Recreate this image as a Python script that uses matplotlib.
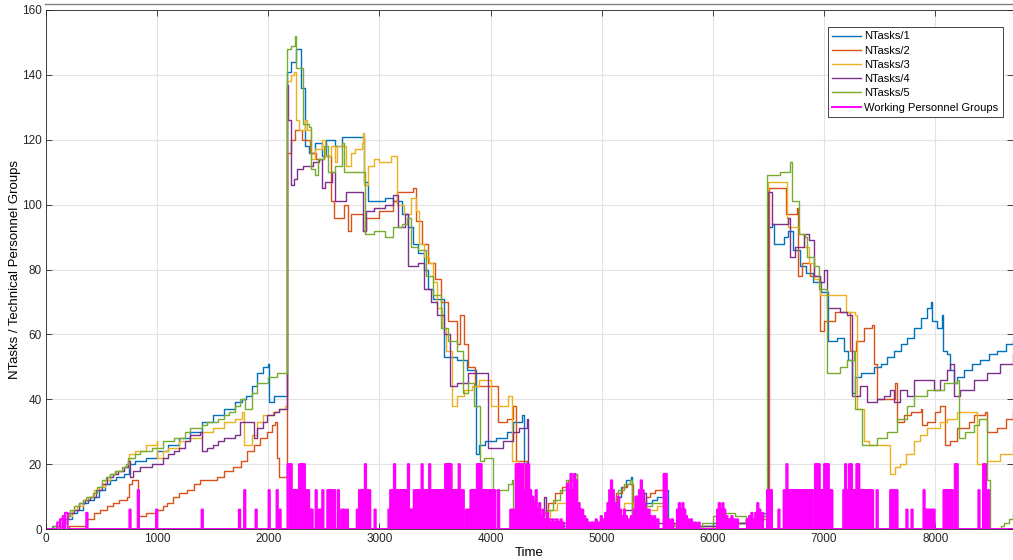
import matplotlib
matplotlib.use("Agg")
import matplotlib.pyplot as plt
from matplotlib.lines import Line2D

# (time, value) breakpoints, step-wise series
NT1 = [(0, 0), (60, 1), (150, 2), (190, 3), (230, 5), (280, 6), (330, 8), (380, 9), (430, 10), (480, 12),
       (530, 14), (580, 15), (630, 16), (700, 17), (750, 20), (800, 21), (900, 22), (1000, 24), (1100, 26),
       (1200, 28), (1300, 30), (1400, 33), (1500, 35), (1600, 37), (1700, 39), (1760, 40), (1800, 41),
       (1850, 44), (1900, 48), (1950, 50), (1995, 51), (2010, 39), (2050, 41),
       (2170, 141), (2200, 144), (2250, 148), (2290, 136), (2330, 118), (2370, 116), (2420, 119), (2480, 115),
       (2520, 120), (2600, 118), (2660, 121), (2860, 107), (2900, 101), (3050, 102), (3120, 101), (3200, 97),
       (3260, 93), (3300, 88), (3350, 85), (3400, 80), (3440, 74), (3480, 71), (3585, 53), (3700, 52),
       (3790, 49), (3870, 23), (3900, 26), (3950, 27), (4050, 28), (4150, 30), (4200, 33), (4280, 35),
       (4300, 6), (4350, 3), (4450, 2), (4550, 1), (4700, 0), (4950, 1), (5050, 4), (5090, 6), (5130, 10),
       (5170, 13), (5220, 15), (5260, 16), (5275, 3), (5330, 6), (5400, 8), (5450, 9), (5500, 10), (5560, 12),
       (5600, 1), (5700, 0), (5800, 1), (6000, 2), (6100, 3), (6200, 2), (6300, 3), (6400, 4), (6450, 5),
       (6500, 93), (6530, 94), (6550, 88), (6640, 90), (6680, 92), (6720, 86), (6780, 81), (6840, 79),
       (6900, 76), (6970, 73), (7040, 58), (7120, 59), (7180, 55), (7220, 52), (7250, 42), (7280, 47),
       (7330, 48), (7450, 50), (7510, 51), (7570, 53), (7630, 55), (7690, 57), (7750, 59), (7810, 62),
       (7870, 65), (7930, 68), (7960, 70), (7970, 64), (8020, 62), (8060, 66), (8070, 55), (8110, 54),
       (8135, 49), (8165, 45), (8200, 47), (8260, 49), (8330, 51), (8400, 52), (8480, 54), (8560, 55),
       (8640, 57), (8700, 58)]

NT2 = [(0, 0), (210, 1), (370, 3), (430, 5), (486, 6), (550, 7), (606, 8), (660, 9), (726, 10), (750, 14),
       (771, 15), (831, 4), (900, 5), (996, 6), (1050, 7), (1086, 8), (1140, 10), (1200, 11), (1266, 12),
       (1330, 14), (1386, 15), (1536, 16), (1600, 18), (1686, 19), (1750, 21), (1806, 24), (1870, 26),
       (1926, 28), (1990, 30), (2030, 32), (2061, 33), (2075, 22), (2100, 16),
       (2170, 116), (2200, 120), (2240, 123), (2300, 120), (2376, 116), (2430, 114), (2500, 115), (2560, 101),
       (2590, 96), (2680, 100), (2720, 92), (2740, 97), (2800, 97), (2856, 92), (2880, 96), (3000, 98),
       (3126, 101), (3160, 104), (3300, 105), (3330, 95), (3380, 88), (3440, 82), (3500, 77), (3550, 70),
       (3620, 64), (3700, 57), (3726, 66), (3760, 57), (3800, 50), (3860, 44), (4071, 33), (4150, 34),
       (4206, 38), (4230, 21), (4330, 20), (4341, 9),
       (4400, 6), (4476, 5), (4520, 8), (4580, 11), (4640, 13), (4700, 15), (4740, 17), (4776, 2), (4850, 1),
       (5000, 2), (5050, 5), (5090, 8), (5130, 11), (5180, 13), (5230, 14), (5280, 3), (5320, 5), (5360, 8),
       (5400, 10), (5430, 11), (5480, 12), (5571, 2), (5650, 1), (5800, 0), (6000, 1), (6150, 2), (6300, 3),
       (6505, 105), (6640, 105), (6660, 97), (6756, 99), (6770, 78), (6800, 82), (6876, 78), (6966, 61),
       (7000, 64), (7100, 67), (7236, 55), (7290, 58), (7356, 62), (7431, 63), (7445, 51), (7476, 40),
       (7630, 40), (7640, 45), (7656, 33), (7720, 35), (7780, 36), (7876, 37), (7880, 32), (7926, 33),
       (8000, 36), (8046, 38), (8090, 26), (8130, 27), (8196, 31), (8300, 33), (8346, 35), (8451, 36),
       (8466, 30), (8560, 31), (8640, 34), (8700, 37)]

NT3 = [(0, 0), (90, 1), (150, 2), (190, 4), (230, 6), (280, 7), (330, 9), (380, 10), (430, 12), (480, 13),
       (530, 15), (580, 17), (630, 18), (700, 19), (750, 23), (800, 24), (900, 26), (996, 27), (1000, 22),
       (1050, 24), (1100, 25), (1200, 27), (1300, 28), (1400, 30), (1500, 31), (1600, 33), (1700, 34),
       (1760, 36), (1780, 26), (1850, 29), (1896, 33), (1950, 35), (2040, 36), (2100, 37), (2150, 38),
       (2170, 138), (2200, 140), (2230, 141), (2250, 126), (2280, 123), (2330, 126), (2350, 123), (2380, 114),
       (2420, 117), (2480, 120), (2510, 115), (2560, 118), (2600, 113), (2620, 118), (2700, 112), (2740, 116),
       (2780, 117), (2840, 119), (2850, 122), (2860, 106), (2900, 112), (2950, 114), (3000, 113), (3100, 115),
       (3160, 100), (3220, 97), (3280, 102), (3330, 98), (3360, 88), (3400, 84), (3450, 82), (3480, 76),
       (3520, 68), (3560, 62), (3600, 55), (3651, 38), (3700, 41), (3760, 43), (3830, 44), (3900, 46),
       (4000, 38), (4161, 41), (4191, 21), (4250, 20), (4300, 8),
       (4350, 6), (4476, 3), (4536, 6), (4600, 8), (4700, 10), (4760, 11), (4780, 2), (4900, 1), (5000, 2),
       (5100, 6), (5200, 8), (5280, 2), (5350, 3), (5400, 6), (5500, 7), (5580, 1), (5700, 0), (5900, 1),
       (6100, 2), (6300, 3), (6450, 4),
       (6495, 107), (6666, 96), (6680, 93), (6771, 91), (6816, 87), (6861, 82), (6906, 77), (6966, 72),
       (7161, 72), (7200, 67), (7280, 66), (7300, 37), (7356, 27), (7400, 26), (7596, 17), (7640, 19),
       (7686, 20), (7740, 23), (7806, 27), (7866, 29), (7926, 31), (8046, 33), (8106, 34), (8196, 36),
       (8376, 20), (8466, 21), (8586, 23), (8700, 26)]

NT4 = [(0, 0), (120, 1), (160, 3), (200, 5), (250, 6), (300, 8), (350, 9), (400, 10), (450, 12), (500, 14),
       (550, 16), (600, 17), (650, 18), (700, 19), (741, 21), (756, 16), (780, 18), (850, 19), (950, 20),
       (1050, 22), (1100, 23), (1150, 24), (1200, 25), (1250, 27), (1300, 29), (1386, 30), (1401, 24),
       (1450, 25), (1500, 26), (1550, 27), (1600, 28), (1700, 29), (1746, 33), (1866, 33), (1870, 28),
       (1896, 31), (1950, 33), (1986, 35), (2050, 36), (2100, 37),
       (2170, 137), (2180, 126), (2200, 106), (2230, 108), (2260, 111), (2316, 112), (2400, 113), (2460, 114),
       (2480, 105), (2510, 107), (2570, 110), (2600, 101), (2700, 104), (2826, 104), (2856, 92), (2880, 98),
       (2950, 99), (3050, 100), (3126, 103), (3170, 93), (3226, 97), (3261, 81), (3350, 82), (3400, 74),
       (3460, 70), (3520, 66), (3580, 60), (3636, 44), (3700, 45), (3800, 48), (3966, 48), (3980, 25),
       (4116, 27), (4200, 30), (4260, 31), (4326, 34), (4340, 6),
       (4400, 4), (4476, 10), (4500, 3), (4600, 2), (4800, 1), (5000, 2), (5100, 4), (5200, 6), (5300, 8),
       (5376, 11), (5400, 3), (5500, 2), (5700, 1), (6100, 2), (6300, 3), (6450, 4),
       (6500, 104), (6530, 94), (6680, 96), (6696, 84), (6741, 87), (6816, 91), (6861, 89), (6906, 78),
       (6966, 76), (6996, 80), (7026, 68), (7146, 67), (7206, 66), (7251, 41), (7326, 44), (7386, 39),
       (7476, 40), (7536, 41), (7596, 43), (7626, 39), (7686, 43), (7746, 41), (7806, 46), (7986, 43),
       (8046, 46), (8106, 49), (8136, 51), (8166, 41), (8226, 43), (8346, 46), (8466, 48), (8586, 51),
       (8700, 54)]

NT5 = [(0, 0), (50, 1), (160, 2), (190, 4), (220, 6), (250, 7), (300, 8), (330, 9), (360, 10), (420, 11),
       (460, 13), (500, 15), (540, 16), (580, 17), (620, 18), (680, 19), (720, 20), (741, 22), (800, 23),
       (850, 24), (950, 25), (1050, 27), (1150, 28), (1250, 30), (1300, 31), (1400, 32), (1450, 33),
       (1550, 34), (1600, 35), (1650, 36), (1700, 38), (1746, 40), (1790, 37), (1850, 42), (1896, 45),
       (2001, 47), (2076, 48),
       (2170, 148), (2200, 149), (2240, 152), (2250, 142), (2316, 125), (2370, 124), (2380, 111), (2421, 109),
       (2450, 114), (2500, 118), (2540, 110), (2600, 112), (2660, 119), (2680, 110), (2871, 91), (2950, 92),
       (3050, 90), (3120, 93), (3200, 94), (3250, 96), (3280, 87), (3350, 86), (3420, 78), (3480, 72),
       (3550, 62), (3620, 58), (3700, 55), (3750, 42), (3800, 45), (3850, 38), (3906, 21), (3940, 22),
       (4026, 12), (4161, 14), (4191, 15), (4200, 1),
       (4300, 2), (4400, 3), (4506, 6), (4560, 9), (4620, 12), (4680, 15), (4720, 17), (4776, 1), (5000, 2),
       (5050, 6), (5100, 9), (5150, 12), (5200, 14), (5250, 15), (5270, 4), (5330, 6), (5400, 7), (5450, 8),
       (5590, 1), (5700, 0), (5900, 2), (6000, 4), (6100, 5), (6200, 4), (6300, 3), (6400, 4),
       (6486, 109), (6600, 110), (6696, 113), (6711, 101), (6771, 91), (6831, 90), (6846, 84), (6906, 81),
       (6951, 74), (7026, 48), (7146, 50), (7206, 52), (7266, 55), (7281, 37), (7341, 26), (7476, 28),
       (7566, 30), (7656, 34), (7746, 38), (7806, 41), (7926, 43), (8076, 45), (8196, 46), (8211, 28),
       (8266, 30), (8346, 32), (8391, 34), (8466, 15), (8496, 0), (8590, 1), (8620, 2), (8660, 3),
       (8700, 5)]

# working personnel groups: (start, end, level) pulses
GROUPS = [(100, 125, 2), (125, 150, 3), (150, 170, 4), (170, 195, 5), (362, 374, 5), (750, 762, 6),
          (825, 837, 12), (990, 1002, 6), (1400, 1412, 6), (1735, 1747, 6), (1782, 1794, 12), (1885, 1897, 6),
          (2002, 2014, 12), (2074, 2086, 12), (2100, 2112, 6),
          (2172, 2190, 20), (2195, 2212, 20), (2215, 2228, 12), (2232, 2250, 12), (2254, 2270, 12),
          (2275, 2290, 20), (2294, 2310, 20), (2314, 2330, 20), (2334, 2350, 12), (2354, 2368, 12),
          (2372, 2385, 6), (2390, 2400, 6), (2425, 2437, 12), (2450, 2465, 6), (2470, 2480, 6),
          (2485, 2497, 12), (2530, 2545, 12), (2550, 2565, 12), (2570, 2585, 12), (2590, 2602, 12),
          (2625, 2637, 12), (2655, 2670, 6), (2675, 2690, 6), (2705, 2717, 6), (2795, 2810, 6),
          (2815, 2830, 12), (2835, 2850, 12), (2855, 2866, 12), (2868, 2880, 20), (2884, 2898, 12),
          (2902, 2918, 12), (2955, 2967, 6), (3080, 3092, 6), (3096, 3110, 12), (3114, 3126, 12),
          (3130, 3142, 20), (3146, 3160, 12), (3164, 3178, 12), (3182, 3196, 12), (3200, 3214, 12),
          (3218, 3232, 12), (3236, 3250, 12), (3255, 3267, 20), (3272, 3285, 6), (3290, 3303, 6),
          (3308, 3322, 12), (3326, 3340, 12), (3344, 3358, 12), (3362, 3376, 12), (3378, 3390, 20),
          (3394, 3408, 12), (3412, 3426, 12), (3430, 3442, 12), (3446, 3458, 20), (3462, 3476, 12),
          (3480, 3494, 12), (3498, 3512, 12), (3516, 3530, 12), (3534, 3548, 12), (3552, 3566, 12),
          (3570, 3584, 12), (3590, 3602, 20), (3606, 3618, 20), (3622, 3634, 20), (3638, 3650, 20),
          (3656, 3670, 12), (3674, 3688, 12), (3692, 3706, 12), (3712, 3724, 20), (3730, 3744, 12),
          (3748, 3760, 12), (3778, 3790, 6), (3796, 3810, 6), (3818, 3832, 12), (3836, 3850, 12),
          (3854, 3868, 12), (3876, 3888, 20), (3892, 3904, 20), (3908, 3920, 20), (3924, 3938, 12),
          (3942, 3956, 12), (3960, 3974, 12), (3978, 3992, 12), (3996, 4010, 12), (4014, 4028, 12),
          (4032, 4044, 12), (4066, 4078, 12), (4176, 4190, 6), (4194, 4208, 6), (4225, 4240, 20),
          (4244, 4258, 20), (4262, 4276, 20), (4280, 4294, 20), (4298, 4312, 12), (4316, 4330, 20),
          (4334, 4348, 20), (4352, 4366, 12), (4370, 4384, 10), (4388, 4400, 8), (4404, 4416, 12),
          (4420, 4432, 6), (4436, 4448, 8), (4452, 4464, 4), (4468, 4480, 6), (4490, 4502, 3),
          (4506, 4518, 5), (4522, 4534, 3), (4540, 4552, 2), (4556, 4568, 3), (4575, 4587, 2),
          (4592, 4604, 3), (4610, 4622, 2), (4628, 4640, 3), (4648, 4660, 2), (4686, 4698, 14),
          (4702, 4714, 12), (4718, 4730, 17), (4734, 4746, 12), (4750, 4762, 17), (4766, 4778, 15),
          (4790, 4802, 8), (4806, 4818, 6), (4822, 4834, 6), (4840, 4852, 4), (4860, 4872, 3),
          (4885, 4897, 2), (4905, 4917, 2), (4925, 4937, 2), (4945, 4957, 3), (4965, 4977, 2),
          (4990, 5002, 4), (5010, 5022, 3), (5030, 5042, 5), (5050, 5062, 8), (5066, 5078, 12),
          (5082, 5094, 15), (5098, 5110, 12), (5114, 5126, 8), (5130, 5142, 6), (5146, 5158, 10),
          (5162, 5174, 6), (5180, 5192, 4), (5198, 5210, 6), (5215, 5227, 4), (5232, 5244, 3),
          (5260, 5272, 4), (5286, 5298, 6), (5302, 5314, 10), (5318, 5330, 10), (5334, 5346, 12),
          (5350, 5362, 15), (5366, 5378, 12), (5382, 5394, 8), (5398, 5410, 6), (5420, 5432, 6),
          (5440, 5452, 4), (5470, 5482, 4), (5500, 5512, 3), (5556, 5570, 17), (5574, 5586, 17),
          (5600, 5612, 3), (5630, 5642, 3), (5676, 5688, 6), (5692, 5704, 8), (5708, 5720, 6),
          (5724, 5736, 8), (5740, 5752, 6), (5756, 5768, 4), (5774, 5786, 3), (5800, 5812, 3),
          (5820, 5832, 2), (5840, 5852, 2), (5870, 5882, 2), (6036, 6048, 6), (6052, 6064, 8),
          (6068, 6080, 6), (6084, 6096, 8), (6100, 6112, 6), (6120, 6132, 4), (6145, 6157, 3),
          (6165, 6177, 4), (6190, 6202, 3), (6215, 6227, 3), (6306, 6318, 3), (6325, 6337, 4),
          (6345, 6357, 5), (6362, 6374, 3), (6380, 6392, 5), (6398, 6410, 8), (6416, 6428, 6),
          (6440, 6452, 5), (6486, 6498, 12), (6504, 6516, 12), (6520, 6532, 12), (6588, 6600, 6),
          (6636, 6648, 12), (6660, 6672, 20), (6676, 6688, 12), (6692, 6704, 12), (6708, 6720, 12),
          (6724, 6736, 12), (6740, 6752, 12), (6756, 6768, 12), (6772, 6784, 12), (6788, 6800, 12),
          (6804, 6816, 12), (6820, 6832, 12), (6836, 6848, 12), (6852, 6864, 12), (6870, 6882, 12),
          (6888, 6900, 12), (6918, 6930, 20), (6934, 6946, 20), (6950, 6962, 20), (6966, 6978, 12),
          (6982, 6994, 12), (7000, 7012, 20), (7016, 7028, 20), (7032, 7044, 20), (7048, 7060, 12),
          (7064, 7076, 12), (7172, 7184, 12), (7188, 7200, 20), (7206, 7218, 12), (7224, 7236, 20),
          (7240, 7252, 20), (7256, 7268, 12), (7272, 7284, 12), (7290, 7302, 20), (7306, 7318, 20),
          (7322, 7334, 12), (7338, 7350, 12), (7356, 7368, 12), (7372, 7384, 12), (7390, 7402, 12),
          (7410, 7422, 12), (7430, 7442, 12), (7472, 7484, 12), (7594, 7606, 12), (7612, 7624, 12),
          (7630, 7642, 12), (7650, 7662, 12), (7740, 7752, 6), (7786, 7798, 6), (7894, 7906, 12),
          (7912, 7924, 6), (7930, 7942, 6), (7948, 7960, 6), (7966, 7978, 6), (7984, 7996, 6),
          (8074, 8086, 12), (8092, 8104, 12), (8110, 8122, 12), (8128, 8140, 12), (8146, 8158, 12),
          (8176, 8188, 20), (8192, 8204, 20), (8388, 8400, 12), (8430, 8442, 20), (8446, 8458, 20),
          (8474, 8486, 12)]

SERIES = [("NTasks/1", NT1), ("NTasks/2", NT2), ("NTasks/3", NT3), ("NTasks/4", NT4), ("NTasks/5", NT5)]
COLORS = ["#0072BD", "#D95319", "#EDB120", "#7E2F8E", "#77AC30"]


def main():
    plt.rcParams["font.family"] = ["Liberation Sans", "DejaVu Sans"]
    fig = plt.figure(figsize=(10.13, 5.6), dpi=100)
    ax = fig.add_axes([46 / 1013, 31 / 560, 967 / 1013, 519 / 560])

    for (name, pts), color in zip(SERIES, COLORS):
        t = [p[0] for p in pts] + [8760]
        v = [p[1] for p in pts] + [pts[-1][1]]
        ax.plot(t, v, drawstyle="steps-post", color=color, linewidth=1.0, label=name)

    gt, gv = [0], [0]
    for t0, t1, lev in GROUPS:
        gt += [t0, t1]
        gv += [lev, 0]
    gt.append(8760)
    gv.append(0)
    ax.plot(gt, gv, drawstyle="steps-post", color="#FF00FF", linewidth=1.4,
            label="Working Personnel Groups")

    ax.set_xlim(0, 8700)
    ax.set_ylim(0, 160)
    ax.set_xticks(range(0, 9000, 1000))
    ax.set_yticks(range(0, 161, 20))
    ax.grid(True, color="#e3e3e3", linewidth=0.8)
    ax.set_axisbelow(True)
    ax.tick_params(direction="in", top=True, right=True, labelsize=8.5, colors="#262626",
                   length=4, width=0.6, pad=3)
    for s in ax.spines.values():
        s.set_color("#262626")
        s.set_linewidth(0.6)
    ax.spines["right"].set_visible(False)

    ax.set_xlabel("Time", fontsize=9.5, labelpad=1)
    ax.set_ylabel("NTasks / Technical Personnel Groups", fontsize=9.5, labelpad=1)

    leg = ax.legend(loc="upper right", bbox_to_anchor=(1003 / 1013, 1 - 27 / 560),
                    bbox_transform=fig.transFigure, borderaxespad=0, fontsize=8, handlelength=2.6,
                    handletextpad=0.3, labelspacing=0.38, borderpad=0.4, fancybox=False,
                    framealpha=1, edgecolor="#262626")
    leg.get_frame().set_linewidth(0.6)

    fig.add_artist(Line2D([45 / 1013, 1.0], [1 - 4 / 560, 1 - 4 / 560], color="#808080",
                          linewidth=1.0, transform=fig.transFigure))

    fig.savefig("out.png", dpi=100)


if __name__ == "__main__":
    main()
